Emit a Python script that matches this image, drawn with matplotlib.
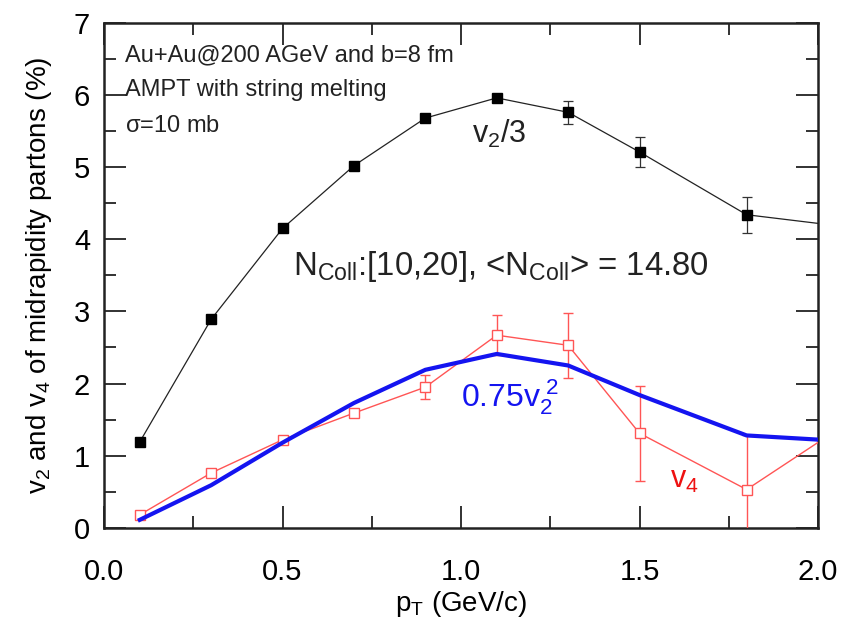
import matplotlib
matplotlib.use("Agg")
import matplotlib.pyplot as plt
from matplotlib.ticker import MultipleLocator

plt.rcParams["font.family"] = ["Liberation Sans", "DejaVu Sans"]
plt.rcParams["mathtext.fontset"] = "custom"
plt.rcParams["mathtext.rm"] = "Liberation Sans"
plt.rcParams["mathtext.it"] = "Liberation Sans"
plt.rcParams["mathtext.default"] = "regular"

# transverse momentum bins (GeV/c)
pt = [0.1, 0.3, 0.5, 0.7, 0.9, 1.1, 1.3, 1.5, 1.8, 2.25]

# v2/3 of midrapidity partons (%)
v2_third = [1.19, 2.89, 4.15, 5.02, 5.68, 5.96, 5.76, 5.21, 4.34, 4.07]
v2_third_err = [0.0, 0.0, 0.0, 0.0, 0.0, 0.0, 0.16, 0.21, 0.25, 0.25]

# v4 of midrapidity partons (%)
v4 = [0.18, 0.76, 1.22, 1.59, 1.95, 2.67, 2.53, 1.31, 0.53, 2.0]
v4_err = [0.0, 0.0, 0.05, 0.05, 0.17, 0.28, 0.45, 0.66, 0.75, 0.75]

# 0.75 v2^2 (%)
v2sq = [0.11, 0.59, 1.18, 1.73, 2.19, 2.41, 2.25, 1.84, 1.28, 1.15]

fig = plt.figure(figsize=(8.53, 6.18), dpi=100)
ax = fig.add_axes([0.122, 0.146, 0.837, 0.817])

ax.errorbar(pt, v2_third, yerr=v2_third_err, color="#222222", lw=0.9,
            marker="s", ms=7, mfc="black", mec="black",
            ecolor="#333333", elinewidth=0.9, capsize=3.5, capthick=0.9,
            zorder=3)
ax.errorbar(pt, v4, yerr=v4_err, color="#ff5555", lw=1.0,
            marker="s", ms=7, mfc="white", mec="#ff5555", mew=1.0,
            ecolor="#ff5555", elinewidth=1.0, capsize=3.5, capthick=1.0,
            zorder=4)
ax.plot(pt, v2sq, color="#1414f0", lw=3.0, zorder=5)

ax.set_xlim(0.0, 2.0)
ax.set_ylim(0, 7)
ax.xaxis.set_major_locator(MultipleLocator(0.5))
ax.xaxis.set_minor_locator(MultipleLocator(0.25))
ax.yaxis.set_major_locator(MultipleLocator(1))
ax.yaxis.set_minor_locator(MultipleLocator(0.5))
ax.xaxis.set_major_formatter(matplotlib.ticker.FormatStrFormatter("%.1f"))

ax.tick_params(which="both", direction="in", top=True, right=True,
               labelsize=21, color="#222222", width=1.3)
ax.tick_params(axis="x", which="both", pad=22)
ax.tick_params(axis="y", which="both", pad=10)
ax.tick_params(which="major", length=16)
ax.tick_params(which="minor", length=8.5)
for s in ax.spines.values():
    s.set_linewidth(1.8)
    s.set_color("#222222")

ax.set_xlabel(r"$p_T$ (GeV/c)", fontsize=20, labelpad=2)
ax.set_ylabel(r"$v_2$ and $v_4$ of midrapidity partons (%)", fontsize=20,
              labelpad=14)

ax.text(0.03, 0.958, "Au+Au@200 AGeV and b=8 fm", transform=ax.transAxes,
        fontsize=17, va="top", color="#222222")
ax.text(0.03, 0.888, "AMPT with string melting", transform=ax.transAxes,
        fontsize=17, va="top", color="#222222")
ax.text(0.03, 0.818, r"$\sigma$=10 mb", transform=ax.transAxes,
        fontsize=17, va="top", color="#222222")

ax.text(1.03, 5.33, r"$v_2/3$", fontsize=22, color="#222222")
ax.text(0.53, 3.5, r"$N_{Coll}$:[10,20], <$N_{Coll}$> = 14.80",
        fontsize=23.7, color="#222222")
ax.text(1.0, 1.68, r"$0.75v_2^{\ 2}$", fontsize=23, color="#1414f0")
ax.text(1.585, 0.55, r"$v_4$", fontsize=22, color="#ee1111")

fig.savefig("out.png", dpi=100, facecolor="white")
